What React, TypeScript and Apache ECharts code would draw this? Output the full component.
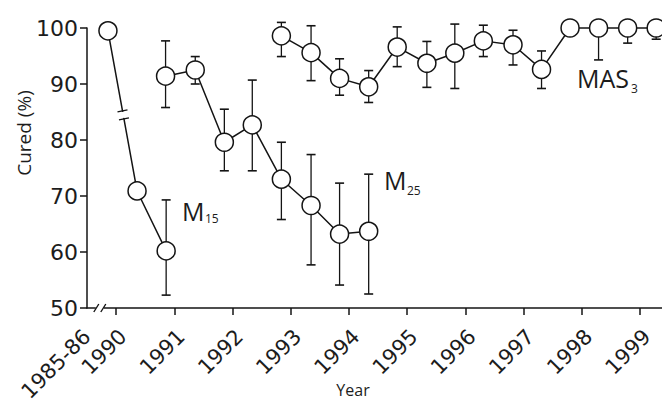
import React, { useEffect, useRef } from 'react';
import * as echarts from 'echarts';

// ---------- data ----------
const X_MIN = 1989.5;
const X_MAX = 1999.38;
const Y_MIN = 50;
const Y_MAX = 100;
const Y_STEP = 10;

const tickYears = [1990, 1991, 1992, 1993, 1994, 1995, 1996, 1997, 1998, 1999];
const xTickLabels = ['1985-86', '1990', '1991', '1992', '1993', '1994', '1995', '1996', '1997', '1998', '1999'];

// M15 cohort
const m15X = [1989.86, 1990.36, 1990.86];
const m15Y = [99.5, 70.9, 60.2];
const m15Low: (number | null)[] = [null, null, 52.3];
const m15High: (number | null)[] = [null, null, 69.3];

// M25 cohort
const m25X = [1990.85, 1991.36, 1991.86, 1992.34, 1992.84, 1993.35, 1993.84, 1994.34];
const m25Y = [91.4, 92.5, 79.6, 82.7, 73.0, 68.3, 63.2, 63.7];
const m25Low: (number | null)[] = [85.8, 90.0, 74.5, 74.5, 65.8, 57.7, 54.1, 52.5];
const m25High: (number | null)[] = [97.7, 94.9, 85.5, 90.7, 79.6, 77.4, 72.3, 73.9];

// MAS3 cohort
const masX = [1992.84, 1993.35, 1993.84, 1994.34, 1994.83, 1995.34, 1995.82, 1996.31, 1996.82, 1997.31, 1997.8, 1998.29, 1998.79, 1999.28];
const masY = [98.6, 95.6, 91.0, 89.5, 96.6, 93.7, 95.5, 97.7, 97.0, 92.6, 100, 100, 100, 100];
const masLow: (number | null)[] = [94.9, 90.6, 88.0, 86.7, 93.1, 89.4, 89.2, 94.9, 93.4, 89.2, null, 94.3, 97.3, 98.0];
const masHigh: (number | null)[] = [101.0, 100.4, 94.5, 92.4, 100.2, 97.6, 100.7, 100.5, 99.6, 95.9, null, null, null, null];

// x position of the "//" break on the x axis
const AXIS_BREAK_X = 1989.72;

// ---------- styles ----------
const INK = '#141414';
const TEXT = '#1c1c1c';
const LABEL_SHIFT = 0.12; // year labels sit slightly right of their ticks
const CAP = 4.5;
const labelPositions = [X_MIN, ...tickYears.map((y) => y + LABEL_SHIFT)];

function errItems(xs: number[], ys: number[], lo: (number | null)[], hi: (number | null)[]) {
  const out: number[][] = [];
  xs.forEach((x, i) => {
    if (lo[i] != null) out.push([x, ys[i], lo[i] as number]);
    if (hi[i] != null) out.push([x, ys[i], hi[i] as number]);
  });
  return out;
}

const errorData = [
  ...errItems(m15X, m15Y, m15Low, m15High),
  ...errItems(m25X, m25Y, m25Low, m25High),
  ...errItems(masX, masY, masLow, masHigh),
];

function lineSeries(name: string, xs: number[], ys: number[]) {
  return {
    name,
    type: 'line',
    data: xs.map((x, i) => [x, ys[i]]),
    symbol: 'circle',
    symbolSize: 18,
    clip: false,
    silent: true,
    z: 3,
    itemStyle: { color: '#ffffff', borderColor: INK, borderWidth: 1.5 },
    lineStyle: { color: INK, width: 1.5 },
    emphasis: { disabled: true },
  };
}

export default function App() {
  const ref = useRef<HTMLDivElement>(null);
  useEffect(() => {
    document.body.style.margin = '0';
    const chart = echarts.init(ref.current!, null, { renderer: 'svg' });
    const labelFont = 'DejaVu Sans';
    const option: any = {
      animation: false,
      backgroundColor: '#ffffff',
      grid: { left: 87, right: 0, top: 28, bottom: 95, containLabel: false, outerBoundsMode: 'none' },
      xAxis: {
        type: 'value',
        min: X_MIN,
        max: X_MAX,
        splitLine: { show: false },
        axisLine: { show: true, lineStyle: { color: INK, width: 1.5 } },
        axisTick: { show: true, customValues: tickYears, length: 7, lineStyle: { color: INK, width: 1.5 } },
        axisLabel: {
          customValues: labelPositions,
          rotate: 45,
          margin: 25,
          color: TEXT,
          fontFamily: labelFont,
          fontSize: 21,
          formatter: (v: number) => {
            const i = labelPositions.findIndex((p) => Math.abs(p - v) < 1e-3);
            return i >= 0 ? xTickLabels[i] : '';
          },
        },
      },
      yAxis: {
        type: 'value',
        min: Y_MIN,
        max: Y_MAX,
        interval: Y_STEP,
        splitLine: { show: false },
        axisLine: { show: true, lineStyle: { color: INK, width: 1.5 } },
        axisTick: { show: true, length: 7, lineStyle: { color: INK, width: 1.5 } },
        axisLabel: { margin: 9, color: TEXT, fontFamily: labelFont, fontSize: 22 },
      },
      graphic: [
        {
          type: 'text',
          x: 24,
          y: 133,
          rotation: Math.PI / 2,
          style: { text: 'Cured (%)', font: '19px "Open Sans"', fill: TEXT, align: 'center', verticalAlign: 'middle' },
        },
        {
          type: 'text',
          x: 353,
          y: 390,
          style: { text: 'Year', font: '16px "Open Sans"', fill: TEXT, align: 'center', verticalAlign: 'middle' },
        },
        { type: 'text', x: 182, y: 211, style: { text: 'M', font: '25px "Open Sans"', fill: TEXT, verticalAlign: 'middle' } },
        { type: 'text', x: 205, y: 218, style: { text: '15', font: '12px "Open Sans"', fill: TEXT, verticalAlign: 'middle' } },
        { type: 'text', x: 384, y: 180, style: { text: 'M', font: '25px "Open Sans"', fill: TEXT, verticalAlign: 'middle' } },
        { type: 'text', x: 407, y: 190, style: { text: '25', font: '12px "Open Sans"', fill: TEXT, verticalAlign: 'middle' } },
        { type: 'text', x: 577, y: 78, style: { text: 'MAS', font: '25px "Open Sans"', fill: TEXT, verticalAlign: 'middle' } },
        { type: 'text', x: 631, y: 88, style: { text: '3', font: '12px "Open Sans"', fill: TEXT, verticalAlign: 'middle' } },
      ],
      series: [
        {
          name: 'errors',
          type: 'custom',
          silent: true,
          clip: false,
          z: 1,
          encode: { x: 0, y: [1, 2] },
          data: errorData,
          renderItem: (params: any, api: any) => {
            const p0 = api.coord([api.value(0), api.value(1)]);
            const p1 = api.coord([api.value(0), api.value(2)]);
            return {
              type: 'group',
              children: [
                { type: 'line', shape: { x1: p0[0], y1: p0[1], x2: p1[0], y2: p1[1] }, style: { stroke: INK, lineWidth: 1.3 } },
                { type: 'line', shape: { x1: p1[0] - CAP, y1: p1[1], x2: p1[0] + CAP, y2: p1[1] }, style: { stroke: INK, lineWidth: 1.6 } },
              ],
            };
          },
        },
        lineSeries('M15', m15X, m15Y),
        lineSeries('M25', m25X, m25Y),
        lineSeries('MAS3', masX, masY),
        {
          name: 'lineBreak',
          type: 'custom',
          silent: true,
          clip: false,
          z: 5,
          encode: { x: [0, 2], y: [1, 3] },
          data: [[m15X[0], m15Y[0], m15X[1], m15Y[1]]],
          renderItem: (params: any, api: any) => {
            const a = api.coord([api.value(0), api.value(1)]);
            const b = api.coord([api.value(2), api.value(3)]);
            const pa = [a[0] + (b[0] - a[0]) * 0.5, a[1] + (b[1] - a[1]) * 0.5];
            const pb = [a[0] + (b[0] - a[0]) * 0.55, a[1] + (b[1] - a[1]) * 0.55];
            return {
              type: 'group',
              children: [
                { type: 'rect', shape: { x: pa[0] - 5, y: pa[1] + 1, width: 10, height: pb[1] - pa[1] - 2 }, style: { fill: '#ffffff' } },
                { type: 'line', shape: { x1: pa[0] - 5, y1: pa[1] + 1, x2: pa[0] + 5, y2: pa[1] - 1 }, style: { stroke: INK, lineWidth: 1.5 } },
                { type: 'line', shape: { x1: pb[0] - 5, y1: pb[1] + 1, x2: pb[0] + 5, y2: pb[1] - 1 }, style: { stroke: INK, lineWidth: 1.5 } },
              ],
            };
          },
        },
        {
          name: 'axisBreak',
          type: 'custom',
          silent: true,
          clip: false,
          z: 5,
          encode: { x: 0, y: 1 },
          data: [[AXIS_BREAK_X, Y_MIN]],
          renderItem: (params: any, api: any) => {
            const p = api.coord([api.value(0), api.value(1)]);
            return {
              type: 'group',
              children: [
                { type: 'rect', shape: { x: p[0] - 4, y: p[1] - 2, width: 8, height: 4 }, style: { fill: '#ffffff' } },
                { type: 'line', shape: { x1: p[0] - 6, y1: p[1] + 4, x2: p[0] - 1, y2: p[1] - 4 }, style: { stroke: INK, lineWidth: 1.4 } },
                { type: 'line', shape: { x1: p[0] + 1, y1: p[1] + 4, x2: p[0] + 6, y2: p[1] - 4 }, style: { stroke: INK, lineWidth: 1.4 } },
              ],
            };
          },
        },
      ],
    };
    chart.setOption(option);
    return () => chart.dispose();
  }, []);
  return <div ref={ref} style={{ width: 662, height: 403 }} />;
}
